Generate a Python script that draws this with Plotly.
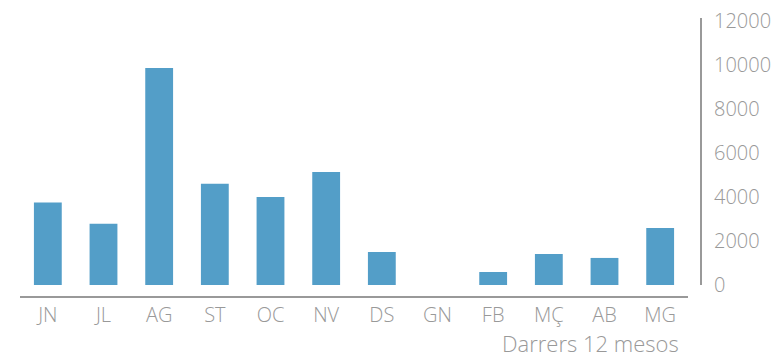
import plotly.graph_objects as go

# Monthly totals for the last 12 months
months = ["JN", "JL", "AG", "ST", "OC", "NV", "DS", "GN", "FB", "MÇ", "AB", "MG"]
values = [3750, 2780, 9860, 4600, 4000, 5140, 1500, 0, 590, 1410, 1230, 2590]
y_ticks = [0, 2000, 4000, 6000, 8000, 10000, 12000]

W, H = 774, 357
left, right_edge = 20, 701          # plot area spans to the y-axis line
top, bottom_line = 18, 297          # x-axis line sits below the zero level
zero_px = 285
plot_w = right_edge - left
plot_h = bottom_line - top

bar_color = "#539ec8"
grey = "#999999"
font_family = "Open Sans, Liberation Sans, Arial, sans-serif"

fig = go.Figure(
    go.Bar(
        x=months,
        y=values,
        marker=dict(color=bar_color, line=dict(width=0)),
        width=0.5,
        hoverinfo="x+y",
    )
)

px_per_unit = (zero_px - 21) / 12000
y_top = 12000 + (21 - top) / px_per_unit

fig.update_layout(
    width=W,
    height=H,
    margin=dict(l=left, r=W - right_edge, t=top, b=H - bottom_line, pad=0, autoexpand=False),
    paper_bgcolor="white",
    plot_bgcolor="white",
    showlegend=False,
    font=dict(family=font_family, color=grey, size=19),
    xaxis=dict(
        domain=[0, (688 - left) / plot_w],
        anchor="free",
        position=0,
        automargin=False,
        showline=True,
        linecolor=grey,
        linewidth=2,
        showgrid=False,
        zeroline=False,
        ticks="",
        tickfont=dict(size=20, color=grey, family=font_family, weight=300),
        ticklabelstandoff=0,
        fixedrange=True,
    ),
    yaxis=dict(
        domain=[(bottom_line - zero_px) / plot_h, 1],
        range=[0, y_top],
        anchor="free",
        position=1,
        side="right",
        automargin=False,
        showline=True,
        linecolor=grey,
        linewidth=2,
        showgrid=False,
        zeroline=False,
        ticks="",
        tickvals=y_ticks,
        ticktext=[str(v) for v in y_ticks],
        tickfont=dict(size=20, color=grey, family=font_family, weight=300),
        ticklabelstandoff=8,
        fixedrange=True,
    ),
    annotations=[
        dict(
            text="Darrers 12 mesos",
            xref="paper",
            yref="paper",
            x=(681 - left) / plot_w,
            y=-(343 - bottom_line) / plot_h,
            xanchor="right",
            yanchor="middle",
            showarrow=False,
            font=dict(size=22, color=grey, family=font_family, weight=300),
        )
    ],
)

fig.write_html("out.html")
